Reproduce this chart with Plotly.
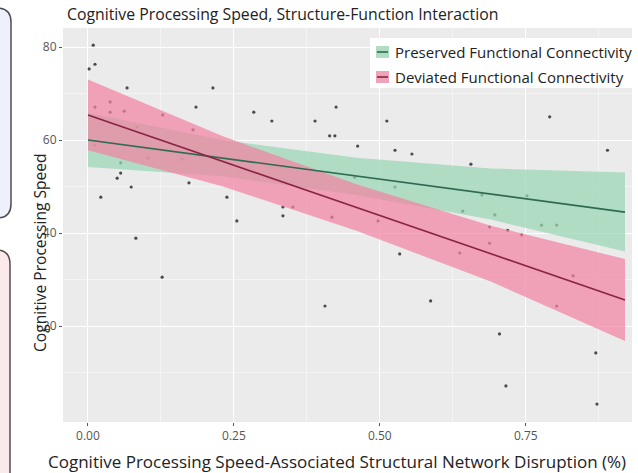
import plotly.graph_objects as go

# ---- data ----
pts_x = [0.009, 0.012, 0.002, 0.067, 0.214, 0.185, 0.284, 0.038, 0.012, 0.038, 0.062, 0.128,
         0.180, 0.084, 0.012, 0.103, 0.161, 0.056, 0.315, 0.389, 0.056, 0.050, 0.074, 0.022,
         0.173, 0.238, 0.334, 0.351, 0.334, 0.255, 0.082, 0.127, 0.425, 0.512, 0.414, 0.423,
         0.462, 0.526, 0.555, 0.656, 0.791, 0.890, 0.457, 0.526, 0.675, 0.752, 0.642, 0.697,
         0.777, 0.803, 0.688, 0.719, 0.743, 0.418, 0.497, 0.534, 0.406, 0.587, 0.688, 0.637,
         0.831, 0.803, 0.705, 0.870, 0.716, 0.872]
pts_y = [80.4, 76.3, 75.3, 71.2, 71.2, 67.1, 66.0, 68.2, 67.1, 66.0, 66.2, 65.4,
         62.2, 62.8, 58.9, 56.1, 55.9, 55.1, 64.1, 64.1, 52.9, 51.8, 49.9, 47.7,
         50.8, 47.7, 45.6, 45.6, 43.7, 42.6, 38.9, 30.5, 67.1, 64.1, 60.9, 60.9,
         58.7, 57.8, 57.0, 54.8, 65.0, 57.8, 52.0, 49.9, 48.2, 48.0, 44.7, 43.9,
         41.7, 41.7, 41.3, 40.6, 39.6, 43.4, 42.6, 35.5, 24.3, 25.4, 37.8, 35.7,
         30.8, 24.3, 18.3, 14.2, 7.1, 3.2]

band_x = [0.0, 0.23, 0.46, 0.69, 0.92]
pres_fit = [60.0, 56.1, 52.2, 48.4, 44.5]
pres_lo = [54.2, 52.2, 48.2, 42.9, 36.0]
pres_hi = [65.8, 60.0, 56.2, 53.9, 53.0]
dev_fit = [65.4, 55.45, 45.5, 35.55, 25.6]
dev_lo = [57.8, 50.05, 40.5, 29.55, 16.8]
dev_hi = [73.0, 60.85, 50.5, 41.55, 34.4]

series_names = ["Preserved Functional Connectivity", "Deviated Functional Connectivity"]
x_ticks = [0.0, 0.25, 0.5, 0.75]
x_tick_labels = ["0.00", "0.25", "0.50", "0.75"]
y_ticks = [20, 40, 60, 80]

green_fill = "rgba(152,214,179,0.72)"
pink_fill = "rgba(241,132,162,0.72)"
green_key = "rgb(177,220,196)"
pink_key = "rgb(239,163,184)"
green_line = "#2f6a52"
pink_line = "#8a2444"

fig = go.Figure()

fig.add_trace(go.Scatter(x=pts_x, y=pts_y, mode="markers",
                         marker=dict(color="#4a4a4a", size=3.2),
                         showlegend=False, hoverinfo="skip"))

for lo, hi, fill in [(pres_lo, pres_hi, green_fill), (dev_lo, dev_hi, pink_fill)]:
    fig.add_trace(go.Scatter(x=band_x + band_x[::-1], y=hi + lo[::-1], fill="toself",
                             fillcolor=fill, line=dict(width=0), mode="lines",
                             showlegend=False, hoverinfo="skip"))

for fit, col, name in [(pres_fit, green_line, series_names[0]), (dev_fit, pink_line, series_names[1])]:
    fig.add_trace(go.Scatter(x=[band_x[0], band_x[-1]], y=[fit[0], fit[-1]], mode="lines",
                             line=dict(color=col, width=1.6), name=name, showlegend=False))

# The page's default 8px body margin is removed (post_script below),
# so the figure fills the whole window.
W, H = 638, 473
# plot area in window pixels: x 63..632, y 28..422
SL, SR, ST, SB = 63, 632, 28, 422
ml, mt, mr, mb = SL, ST, W - SR, H - SB
pw, ph = SR - SL, SB - ST

def px(p):
    return (p - SL) / pw

def py(p):
    return 1 - (p - ST) / ph

def rbox(x0, x1, y0, y1, r=14):
    rx, ry = r / pw, r / ph
    X0, X1, Y0, Y1 = px(x0), px(x1), py(y1), py(y0)
    return (f"M {X0+rx} {Y1} L {X1-rx} {Y1} Q {X1} {Y1} {X1} {Y1-ry} "
            f"L {X1} {Y0+ry} Q {X1} {Y0} {X1-rx} {Y0} L {X0+rx} {Y0} "
            f"Q {X0} {Y0} {X0} {Y0+ry} L {X0} {Y1-ry} Q {X0} {Y1} {X0+rx} {Y1} Z")

# cropped neighbouring panels on the left edge
fig.add_shape(type="path", xref="paper", yref="paper", path=rbox(-40, 11, 8, 218),
              line=dict(color="#4d4d55", width=1.5), fillcolor="#eef0fb", layer="below")
fig.add_shape(type="path", xref="paper", yref="paper", path=rbox(-40, 10, 250, 490),
              line=dict(color="#5a4a4d", width=1.5), fillcolor="#faeaec", layer="below")

# legend box (drawn manually to match the ggplot-style key)
fig.add_shape(type="rect", xref="paper", yref="paper", x0=px(370), x1=px(633),
              y0=py(88), y1=py(38), line=dict(width=0), fillcolor="white", layer="above")
for row_y, name, key, col in [(52, series_names[0], green_key, green_line),
                              (77, series_names[1], pink_key, pink_line)]:
    fig.add_shape(type="rect", xref="paper", yref="paper", x0=px(376), x1=px(389),
                  y0=py(row_y + 6), y1=py(row_y - 6), line=dict(width=0),
                  fillcolor=key, layer="above")
    fig.add_shape(type="line", xref="paper", yref="paper", x0=px(377), x1=px(388),
                  y0=py(row_y), y1=py(row_y), line=dict(color=col, width=1.6), layer="above")
    fig.add_annotation(xref="paper", yref="paper", x=px(393), y=py(row_y),
                       xanchor="left", yanchor="middle", showarrow=False, text=name,
                       font=dict(size=15, color="#222"))

# axis titles as annotations at their measured positions
fig.add_annotation(xref="paper", yref="paper", x=px(337), y=py(461), xanchor="center",
                   yanchor="middle", showarrow=False,
                   text="Cognitive Processing Speed-Associated Structural Network Disruption (%)",
                   font=dict(size=17, color="#222"))
fig.add_annotation(xref="paper", yref="paper", x=px(40), y=py(253), xanchor="center",
                   yanchor="middle", showarrow=False, textangle=-90,
                   text="Cognitive Processing Speed", font=dict(size=15.6, color="#222"))

fig.update_layout(
    width=W, height=H,
    margin=dict(l=ml, r=mr, t=mt, b=mb),
    paper_bgcolor="white", plot_bgcolor="#ebebeb",
    font=dict(family="Open Sans", color="#222"),
    title=dict(text="Cognitive Processing Speed, Structure-Function Interaction",
               xref="paper", x=px(67), xanchor="left",
               yref="container", y=1 - 14.5 / H, yanchor="middle",
               font=dict(size=15.8, color="#222")),
    showlegend=False,
    hovermode=False,
    xaxis=dict(range=[-0.0428, 0.932], tickvals=x_ticks, ticktext=x_tick_labels,
               showgrid=True, gridcolor="white", gridwidth=1.2, zeroline=False,
               ticks="outside", ticklen=3, tickcolor="#555",
               tickfont=dict(size=12, color="#555"),
               minor=dict(dtick=0.125, tick0=0.125, showgrid=True, gridcolor="#f4f4f4", gridwidth=0.6)),
    yaxis=dict(range=[-0.65, 84.1], tickvals=y_ticks,
               showgrid=True, gridcolor="white", gridwidth=1.2, zeroline=False,
               ticks="outside", ticklen=3, tickcolor="#555",
               tickfont=dict(size=12, color="#555"),
               minor=dict(dtick=20, tick0=10, showgrid=True, gridcolor="#f4f4f4", gridwidth=0.6)),
)

fig.write_html("out.html", config={"displayModeBar": False},
               post_script="document.body.style.margin='0px';")
